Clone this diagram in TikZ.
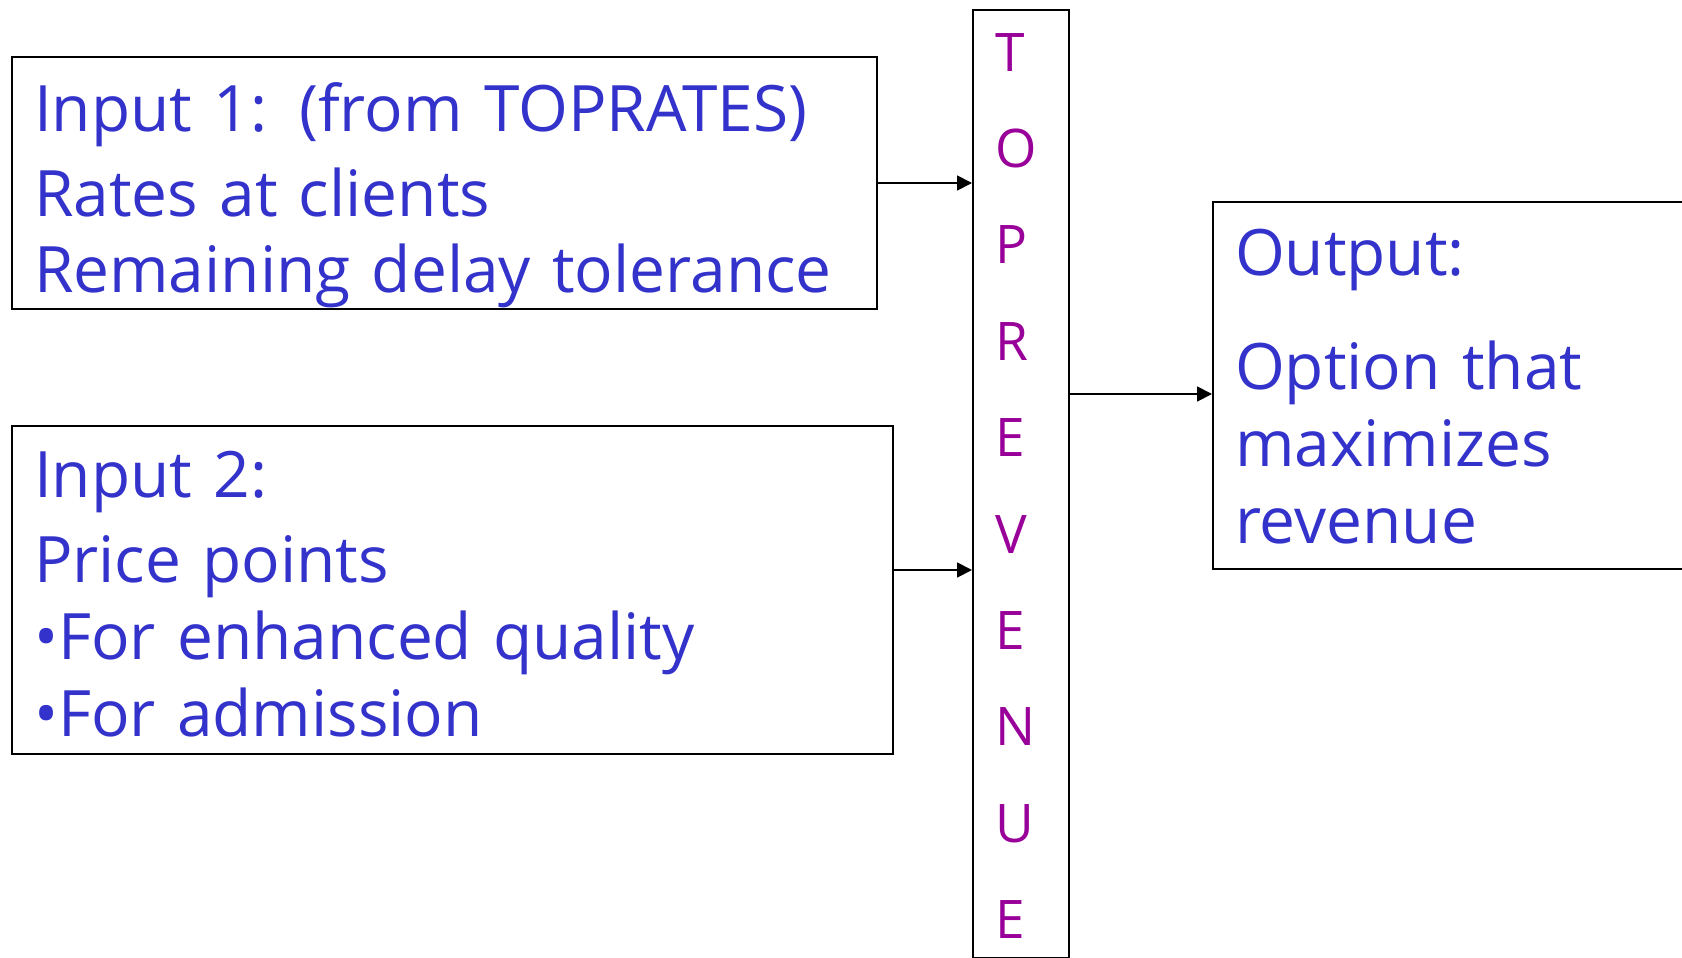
\documentclass[tikz,border=0pt]{standalone}
\usepackage{fontspec}
\setmainfont{Open Sans}
\usetikzlibrary{arrows.meta, positioning, calc}
\definecolor{textblue}{RGB}{51, 51, 204}
\definecolor{revpurple}{RGB}{153, 0, 153}

\begin{document}
\begin{tikzpicture}[x=0.5pt, y=-0.5pt,
  ibox/.style={draw, line width=1pt, anchor=north west, align=left, inner xsep=11pt, inner ysep=0pt, text=textblue, font=\fontsize{32}{38.5}\selectfont},
  colbox/.style={draw, line width=1pt, anchor=north west, align=left, inner xsep=11pt, inner ysep=0pt, text width=26pt, text=revpurple, font=\fontsize{26.6}{48.2}\selectfont},
  arr/.style={-{Triangle[length=7.5pt, width=7.5pt]}, line width=0.9pt}
]
  \useasboundingbox (0,0) rectangle (1682,958);
  \node[ibox, text width=410.5pt, text height=37pt, text depth=89pt] (in1) at (11,56) {
    Input 1: (from TOPRATES)\\[4pt]
    Rates at clients\\
    Remaining delay tolerance
  };
  \node[ibox, text width=418.5pt, text height=35.5pt, text depth=128.5pt] (in2) at (11,425) {
    Input 2:\\[4pt]
    Price points\\
    •For enhanced quality\\
    •For admission
  };
  \node[colbox, text height=30.5pt, text depth=443.5pt] (rev) at (972,9) {T\\O\\P\\R\\E\\V\\E\\N\\U\\E};
  \node[ibox, text width=222pt, text height=36.5pt, text depth=147pt] (out) at (1212,201) {
    Output:\\[18.5pt]
    Option that\\
    maximizes\\
    revenue
  };

  \coordinate (a2) at ($(in2.east)+(0,-20)$);
  \coordinate (a3) at ($(out.west)+(0,8.5)$);
  \draw[arr] (in1.east) -- (in1.east -| rev.west);
  \draw[arr] (a2) -- (a2 -| rev.west);
  \draw[arr] (a3 -| rev.east) -- (a3);
\end{tikzpicture}
\end{document}
